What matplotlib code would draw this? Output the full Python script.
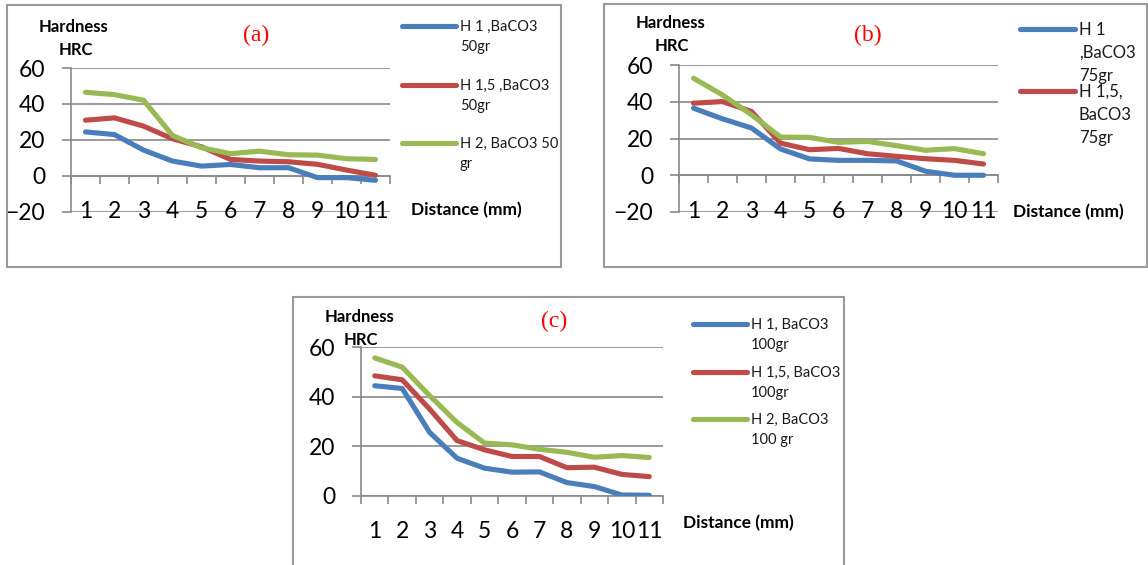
import matplotlib
matplotlib.use("Agg")
import matplotlib.pyplot as plt
import matplotlib.transforms as mtransforms
from matplotlib.patches import Rectangle
from matplotlib.lines import Line2D

# ---------------- data ----------------
distance = ["1", "2", "3", "4", "5", "6", "7", "8", "9", "10", "11"]

a_h1 = [24.5, 23.0, 14.4, 8.3, 5.5, 6.4, 4.6, 4.6, -0.9, -0.9, -2.4]
a_h15 = [31.0, 32.3, 27.7, 20.7, 16.2, 9.2, 8.3, 7.9, 6.5, 3.3, 0.4]
a_h2 = [46.5, 45.2, 42.1, 22.5, 15.7, 12.4, 13.8, 11.8, 11.6, 9.6, 9.2]
a_names = ["H 1 ,BaCO3\n50gr", "H 1,5 ,BaCO3\n50gr", "H 2, BaCO3 50\ngr"]

b_h1 = [36.5, 30.7, 25.7, 14.3, 8.9, 8.1, 8.1, 7.8, 2.2, 0.0, 0.0]
b_h15 = [39.2, 40.1, 34.7, 17.5, 13.9, 14.6, 11.7, 10.3, 9.0, 8.1, 6.1]
b_h2 = [52.8, 43.7, 32.9, 20.8, 20.6, 17.9, 18.4, 16.1, 13.6, 14.5, 11.7]
b_names = ["H 1\n,BaCO3\n75gr", "H 1,5,\nBaCO3\n75gr"]

c_h1 = [44.4, 43.3, 25.6, 15.2, 11.2, 9.6, 9.7, 5.4, 3.8, 0.4, 0.3]
c_h15 = [48.4, 46.8, 35.0, 22.3, 18.6, 15.9, 15.9, 11.4, 11.6, 8.7, 7.8]
c_h2 = [55.6, 51.9, 40.4, 29.6, 21.3, 20.6, 18.8, 17.6, 15.6, 16.3, 15.5]
c_names = ["H 1, BaCO3\n100gr", "H 1,5, BaCO3\n100gr", "H 2, BaCO3\n100 gr"]

colors = ["#4A7EBB", "#BE4B48", "#98B954"]
ylabel_lines = ["Hardness", "HRC"]
xlabel = "Distance (mm)"
panel_tags = ["(a)", "(b)", "(c)"]

# ---------------- layout helpers ----------------
W, H = 1148, 565
fig = plt.figure(figsize=(W / 100, H / 100), dpi=100)
GRID = "#898989"
PX = 100 / 72.0
TICK = 16.5


def rect(l, r, t, b):
    return [l / W, 1 - b / H, (r - l) / W, (b - t) / H]


def ftext(x, y, s, size, **kw):
    # y is visual centre of capitals (pixels from top)
    base = y + 0.36 * size * PX
    fig.text(x / W, 1 - base / H, s, fontsize=size, va="baseline", **kw)


def box(l, t, r, b):
    fig.add_artist(Rectangle((l / W, 1 - b / H), (r - l) / W, (b - t) / H,
                             transform=fig.transFigure, fill=False,
                             ec="#9a9a9a", lw=1.5))


def panel(pos, series, ymin, label_y_axes):
    ax = fig.add_axes(pos)
    x = list(range(1, len(distance) + 1))
    for vals, c in zip(series, colors):
        ax.plot(x, vals, color=c, lw=3.7, solid_capstyle="round",
                solid_joinstyle="round", zorder=3)
    ax.set_xlim(0.5, len(distance) + 0.5)
    ax.set_ylim(ymin, 60)
    ax.set_yticks(list(range(ymin, 61, 20)))
    ax.yaxis.grid(True, color=GRID, lw=1.2)
    ax.set_axisbelow(True)
    for s in ["top", "right"]:
        ax.spines[s].set_visible(False)
    ax.spines["left"].set_color(GRID)
    ax.spines["left"].set_linewidth(1.2)
    ax.spines["bottom"].set_position(("data", 0))
    ax.spines["bottom"].set_color(GRID)
    ax.spines["bottom"].set_linewidth(1.2)
    ax.set_xticks([i + 0.5 for i in range(0, len(distance) + 1)])
    ax.set_xticklabels([])
    ax.tick_params(axis="x", direction="out", length=5.5, width=1.2, color=GRID)
    ax.tick_params(axis="y", direction="out", length=6.5, width=1.2, color=GRID,
                   pad=12, labelsize=TICK)
    for lab in ax.get_yticklabels():
        lab.set_fontfamily("Lato")
    ax.set_facecolor("none")
    tr = mtransforms.blended_transform_factory(ax.transData, ax.transAxes)
    for i, lab in enumerate(distance):
        ax.text(i + 1, label_y_axes, lab, transform=tr, ha="center", va="center",
                fontsize=TICK, family="Lato", clip_on=False)
    return ax


def legend(x0, x1, xt, ys, names, size, spacing):
    for y, name, c in zip(ys, names, colors):
        fig.add_artist(Line2D([x0 / W, x1 / W], [1 - y / H, 1 - y / H],
                              transform=fig.transFigure, color=c, lw=3.7,
                              solid_capstyle="round"))
        for k, line in enumerate(name.split("\n")):
            ftext(xt, y + k * spacing, line, size, family="Lato", color="#1a1a1a")


# ---------------- panel (a) ----------------
box(7, 5, 561, 267)
panel(rect(71, 390, 68, 212), [a_h1, a_h15, a_h2], -20, 0.0)
ftext(39, 26, ylabel_lines[0], 12, family="Lato", weight="bold")
ftext(59, 49, ylabel_lines[1], 12, family="Lato", weight="bold")
ftext(411, 209, xlabel, 12.5, family="Lato", weight="bold")
fig.text(256 / W, 1 - 35 / H, panel_tags[0], fontsize=17, family="Liberation Serif",
         color="#FF0000", ha="center", va="center")
legend(402, 456, 460, [26, 85, 143], a_names, 10.5, 20)

# ---------------- panel (b) ----------------
box(604, 4, 1147, 267)
panel(rect(679, 998, 65, 212), [b_h1, b_h15, b_h2], -20, 0.0)
ftext(636, 22, ylabel_lines[0], 12, family="Lato", weight="bold")
ftext(655, 45, ylabel_lines[1], 12, family="Lato", weight="bold")
ftext(1013, 211, xlabel, 12.5, family="Lato", weight="bold")
fig.text(868 / W, 1 - 35 / H, panel_tags[1], fontsize=17, family="Liberation Serif",
         color="#FF0000", ha="center", va="center")
legend(1020, 1075, 1079, [29, 91], b_names, 12, 23)

# ---------------- panel (c) ----------------
box(293, 297, 844, 570)
panel(rect(361, 663, 347, 496), [c_h1, c_h15, c_h2], 0, -(531 - 496) / (496 - 347))
ftext(325, 316, ylabel_lines[0], 12, family="Lato", weight="bold")
ftext(344, 339, ylabel_lines[1], 12, family="Lato", weight="bold")
ftext(683, 522, xlabel, 12.5, family="Lato", weight="bold")
fig.text(554 / W, 1 - 321 / H, panel_tags[2], fontsize=17, family="Liberation Serif",
         color="#FF0000", ha="center", va="center")
legend(693, 747, 751, [324, 372, 419], c_names, 10.5, 20)

fig.savefig("out.png", dpi=100, facecolor="white")
